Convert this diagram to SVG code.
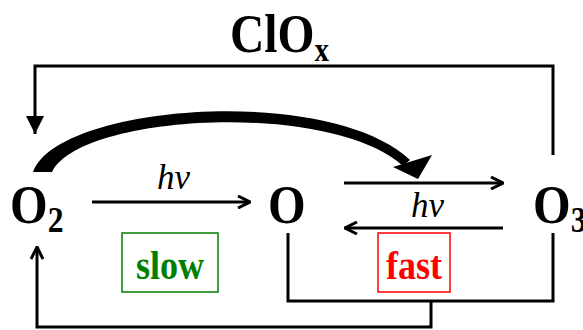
<svg xmlns="http://www.w3.org/2000/svg" width="583" height="330" viewBox="0 0 583 330">
<defs>
<style>
.lbl{font-family:"Liberation Serif","Times New Roman",serif;font-weight:bold;fill:#000}
.hv{font-family:"Liberation Serif","Times New Roman",serif;font-style:italic;font-size:35px;fill:#000}
.ln{fill:none;stroke:#000;stroke-width:3}
</style>
<marker id="open" viewBox="0 0 14 14" refX="13" refY="7" markerWidth="14" markerHeight="14" markerUnits="userSpaceOnUse" orient="auto">
<path d="M1,1 L13,7 L1,13" fill="none" stroke="#000" stroke-width="3" stroke-linejoin="miter"/>
</marker>
<marker id="solid" viewBox="0 0 18 18" refX="18" refY="9" markerWidth="18" markerHeight="18" markerUnits="userSpaceOnUse" orient="auto">
<path d="M0,0 L18,9 L0,18 Z" fill="#000"/>
</marker>
</defs>
<rect width="583" height="330" fill="#fff"/>
<g id="title">
<text class="lbl" transform="translate(230,52) scale(0.88,1)" font-size="54">ClO<tspan font-size="33" dy="9">x</tspan></text>
</g>
<g id="node-O2">
<text class="lbl" transform="translate(10,223) scale(0.88,1)" font-size="55">O<tspan font-size="36" dy="9">2</tspan></text>
</g>
<g id="node-O">
<text class="lbl" transform="translate(268,223) scale(0.88,1)" font-size="55">O</text>
</g>
<g id="node-O3">
<text class="lbl" transform="translate(533,223) scale(0.88,1)" font-size="55">O<tspan font-size="36" dy="9">3</tspan></text>
</g>
<g id="slow">
<rect x="122" y="233" width="96" height="59" fill="none" stroke="#008000" stroke-width="1.5"/>
<text class="lbl" transform="translate(170,279) scale(0.88,1)" font-size="41" text-anchor="middle" style="fill:#008000">slow</text>
</g>
<g id="fast">
<rect x="378" y="233" width="72" height="59" fill="none" stroke="#ff0000" stroke-width="1.5"/>
<text class="lbl" transform="translate(414,279) scale(0.88,1)" font-size="41" text-anchor="middle" style="fill:#ff0000">fast</text>
</g>
<g id="connectors">
<polyline class="ln" points="553,155 553,66 35,66 35,134" marker-end="url(#solid)"/>
<path d="M33,172 C58,104 330,84 410,160 L403,166 C330,100 80,114 52,172 Z" fill="#000"/>
<polygon points="393,167 432,155 418,179" fill="#000"/>
<line class="ln" x1="92" y1="202" x2="250" y2="202" marker-end="url(#open)"/>
<text class="hv" x="157" y="189">hν</text>
<line class="ln" x1="344" y1="183" x2="503" y2="183" marker-end="url(#open)"/>
<text class="hv" x="411" y="217">hν</text>
<line class="ln" x1="503" y1="228" x2="345" y2="228" marker-end="url(#open)"/>
<polyline class="ln" points="288,233 288,301 553,301 553,233"/>
<polyline class="ln" points="431,301 431,327 37,327 37,247" marker-end="url(#open)"/>
</g>
</svg>
